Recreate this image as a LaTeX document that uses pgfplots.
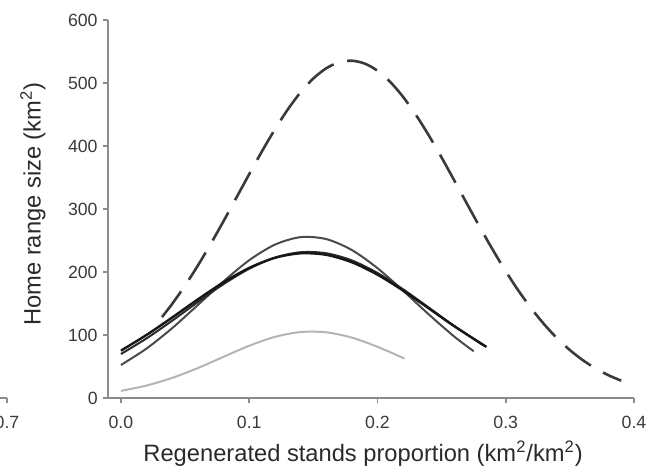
\documentclass[border=0pt]{standalone}
\usepackage{pgfplots}
\pgfplotsset{compat=1.18}
\usepackage{fontspec}
\setmainfont{Liberation Sans}
\definecolor{axisgray}{HTML}{8C8C8C}
\definecolor{ticktext}{HTML}{3A3A3A}
\definecolor{labeltext}{HTML}{2A2A2A}
\definecolor{dashcol}{HTML}{3A3A3A}
\definecolor{curveA}{HTML}{4A4A4A}
\definecolor{curveB}{HTML}{161616}
\definecolor{curveC}{HTML}{2A2A2A}
\definecolor{curveD}{HTML}{B4B4B4}
\pgfplotsset{
  mystyle/.style={
    scale only axis,
    axis x line*=bottom,
    axis y line*=left,
    axis line style={draw=axisgray, line width=0.8pt},
    tick align=outside,
    major tick length=2.5pt,
    tick style={draw=axisgray, line width=0.8pt},
    /pgf/number format/assume math mode=true,
    ticklabel style={font=\fontsize{8.85pt}{10pt}\selectfont, text=ticktext},
    xticklabel style={inner sep=0pt, anchor=base, yshift=-12.7pt},
    yticklabel style={inner sep=0pt, anchor=east, xshift=-2.5pt},
  }
}
\begin{document}
\begin{tikzpicture}
\useasboundingbox (-54pt,-37.5pt) rectangle (270.5pt,199pt);
% remnant of neighbouring panel
\begin{axis}[mystyle, at={(-50.5pt,0pt)}, anchor=south east,
  width=60pt, height=189pt, xmin=0.6, xmax=0.7, ymin=0, ymax=600,
  axis y line=none, xtick={0.7}, xticklabels={0.7}, ytick=\empty]
  \addplot[draw=none] coordinates {(0.65,300)};
\end{axis}
\begin{axis}[mystyle, at={(0pt,0pt)}, anchor=south west, clip=false,
  width=263pt, height=189pt,
  xmin=-0.0101, xmax=0.4, ymin=0, ymax=600,
  xtick={0,0.1,0.2,0.3,0.4},
  xticklabels={0.0,0.1,0.2,0.3,0.4},
  ytick={0,100,200,300,400,500,600},
  xlabel={Regenerated stands proportion (km\textsuperscript{2}/km\textsuperscript{2})},
  label style={font=\fontsize{11.85pt}{13pt}\selectfont, text=labeltext},
  xlabel style={at={(axis description cs:0.485,0)}, anchor=base, yshift=-31.5pt},
]
% light grey curve
\addplot[curveD, line width=1pt, smooth] coordinates {
(0,11.3) (0.02,19.8) (0.04,32.0) (0.06,47.6) (0.08,65.4) (0.10,82.9)
(0.12,97.0) (0.14,104.7) (0.16,104.3) (0.18,95.9) (0.20,81.3) (0.221,62.7)};
% dashed curve
\addplot[dashcol, line width=1.3pt, smooth, dash pattern=on 16pt off 7pt] coordinates {
(0.032,128.5) (0.04,149.6) (0.05,178.6) (0.06,210.4) (0.07,244.7) (0.08,280.8)
(0.09,318.0) (0.10,355.3) (0.11,391.8) (0.12,426.3) (0.13,457.8) (0.14,485.1)
(0.15,507.2) (0.16,523.3) (0.17,532.9) (0.18,535.4) (0.19,530.9) (0.20,519.5)
(0.21,501.6) (0.22,477.9) (0.23,449.3) (0.24,416.9) (0.25,381.7) (0.26,344.9)
(0.27,307.5) (0.28,270.6) (0.29,234.9) (0.30,201.2) (0.31,170.1) (0.32,142.0)
(0.33,116.9) (0.34,94.9) (0.35,76.1) (0.36,60.2) (0.37,47.0) (0.38,36.2) (0.39,27.5)};
% curve A (highest solid peak)
\addplot[curveA, line width=1pt, smooth] coordinates {
(0,52.4) (0.02,78.6) (0.04,111.0) (0.06,147.7) (0.08,185.1) (0.10,218.7)
(0.12,243.4) (0.14,255.3) (0.16,252.3) (0.18,234.9) (0.20,206.1) (0.22,170.3)
(0.24,132.7) (0.26,97.3) (0.275,74.2)};
% curve C
\addplot[curveC, line width=1pt, smooth] coordinates {
(0,69.8) (0.02,94.7) (0.04,122.8) (0.06,152.4) (0.08,180.8) (0.10,205.2)
(0.12,222.8) (0.14,231.4) (0.16,229.8) (0.18,218.4) (0.20,198.5) (0.22,172.5)
(0.24,143.5) (0.26,114.1) (0.283,83.0)};
% curve B (black)
\addplot[curveB, line width=1.2pt, smooth] coordinates {
(0,75.2) (0.02,100.2) (0.04,127.9) (0.06,156.6) (0.08,183.7) (0.10,206.5)
(0.12,222.5) (0.14,229.7) (0.16,227.3) (0.18,215.5) (0.20,195.8) (0.22,170.5)
(0.24,142.3) (0.26,113.8) (0.285,81.1)};
\node[rotate=90, anchor=center, inner sep=0pt, font=\fontsize{11.85pt}{13pt}\selectfont, text=labeltext]
  at (axis description cs:-0.1426,0.513) {Home range size (km\textsuperscript{2})};
\end{axis}
\end{tikzpicture}
\end{document}
